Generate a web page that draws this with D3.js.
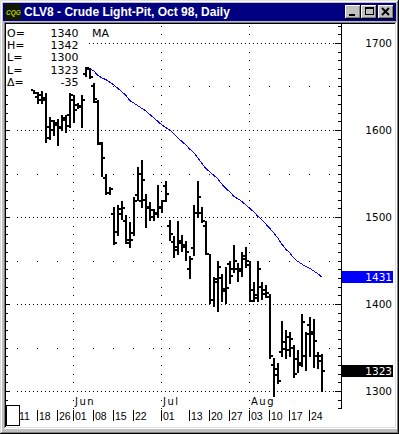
<!DOCTYPE html>
<html>
<head>
<meta charset="utf-8">
<script src="https://cdn.jsdelivr.net/npm/d3@7"></script>
<style>
html, body { margin: 0; padding: 0; background: #c0c0c0; overflow: hidden; }
svg { display: block; }
</style>
</head>
<body>
<script>
var width = 399, height = 434;

// ---- data ------------------------------------------------------------
var title = "CLV8 - Crude Light-Pit, Oct 98, Daily";
var firstDay = "1998-05-11", lastDay = "1998-09-02";
var holidays = ["1998-05-25", "1998-07-03"];

// daily OHLC, one value per trading day starting at barStart
var barStart = "1998-05-15";
var opens  = [1646,1638,1640,1634,1604,1600,1606,1604,1611,1617,1634,1629,1628,1664,1671,1650,1632,1584,1545,1528,
              1503,1483,1503,1495,1470,1482,1525,1518,1520,1512,1500,1505,1510,1536,1490,1471,1466,1470,1468,1440,
              1464,1505,1505,1490,1457,1405,1425,1430,1415,1446,1440,1440,1440,1455,1445,1416,1410,1420,1416,1408,
              1330,1325,1345,1348,1347,1350,1337,1332,1340,1376,1368,1340,1340];
var highs  = [1646,1644,1645,1642,1615,1611,1613,1617,1617,1642,1640,1631,1640,1672,1671,1654,1635,1586,1550,1534,
              1511,1514,1518,1502,1494,1523,1558,1566,1526,1517,1509,1537,1520,1541,1497,1478,1495,1479,1472,1455,
              1514,1541,1512,1495,1457,1431,1449,1434,1443,1449,1468,1447,1460,1466,1450,1425,1449,1425,1422,1411,
              1338,1332,1381,1370,1368,1353,1347,1389,1368,1385,1383,1345,1342];
var lows   = [1642,1631,1631,1586,1590,1594,1583,1600,1598,1604,1609,1625,1604,1662,1660,1632,1584,1547,1527,1527,
              1469,1479,1498,1470,1466,1479,1520,1511,1489,1496,1497,1500,1506,1518,1474,1454,1458,1461,1451,1430,
              1456,1500,1494,1457,1401,1398,1392,1403,1401,1424,1437,1426,1432,1442,1403,1403,1403,1406,1408,1338,
              1294,1309,1340,1338,1340,1316,1322,1329,1324,1340,1328,1326,1300];
var closes = [1643,1635,1637,1591,1610,1608,1602,1614,1605,1640,1623,1627,1634,1670,1661,1636,1585,1568,1528,1532,
              1470,1509,1510,1473,1473,1518,1550,1542,1510,1508,1503,1512,1518,1527,1480,1462,1472,1466,1460,1452,
              1505,1523,1495,1458,1405,1429,1442,1417,1418,1432,1450,1438,1452,1449,1404,1407,1440,1412,1413,1340,
              1318,1311,1356,1362,1360,1319,1330,1379,1365,1366,1358,1334,1323];

// moving average, one value per trading day starting at maStart
var maStart = "1998-06-05";
var maValues = [1670,1668,1663,1660,1658,1655,1652,1648,1644,1640,1634,1631,1628,1625,1622,1618,1614,1610,1606,1603,
                1600,1596,1591,1587,1583,1578,1574,1568,1562,1556,1552,1548,1544,1538,1533,1529,1524,1521,1518,1514,
                1510,1506,1501,1497,1492,1487,1482,1476,1469,1463,1459,1453,1449,1446,1443,1441,1438,1435,1431];

// bottom date scale
var dateTicks  = ["1998-05-11","1998-05-18","1998-05-26","1998-06-01","1998-06-08","1998-06-15","1998-06-22",
                  "1998-07-01","1998-07-13","1998-07-20","1998-07-27","1998-08-03","1998-08-10","1998-08-17","1998-08-24"];
var monthTicks = ["1998-06-01","1998-07-01","1998-08-03"];

// price scale
var priceDomain = [1280, 1720];
var priceLabels = [1300, 1400, 1500, 1600, 1700];
var halfLevels  = [1350, 1450, 1550, 1650];

// quote box at top left
var infoLabels = ["O=", "H=", "L=", "L=", "\u0394="];
var infoValues = ["1340", "1342", "1300", "1323", "-35"];

// ---- helpers ---------------------------------------------------------
var parse = d3.timeParse("%Y-%m-%d");
var fmt = d3.timeFormat("%Y-%m-%d");
var days = d3.timeDay.range(parse(firstDay), d3.timeDay.offset(parse(lastDay), 1))
    .filter(function(d){ return d.getDay() != 0 && d.getDay() != 6 && holidays.indexOf(fmt(d)) < 0; });
var dayKeys = days.map(fmt);

// first trading day of each week
var weekKeys = days.filter(function(d, i){
    return i == 0 || +d3.timeMonday.floor(d) != +d3.timeMonday.floor(days[i-1]);
}).map(fmt);

var x = d3.scalePoint().domain(dayKeys).range([17.7, 17.7 + 4 * (dayKeys.length - 1)]);
var y = d3.scaleLinear().domain(priceDomain).range([408.4, 25.6]);
function px(k){ return Math.floor(x(k)); }
function py(v){ return Math.round(y(v)); }

var bars = opens.map(function(o, k){
    return {key: dayKeys[dayKeys.indexOf(barStart) + k], o: o, h: highs[k], l: lows[k], c: closes[k]};
});
var ma = maValues.map(function(v, k){
    return {key: dayKeys[dayKeys.indexOf(maStart) + k], v: v};
});

var svg = d3.select("body").append("svg")
    .attr("width", width)
    .attr("height", height)
    .attr("shape-rendering", "crispEdges");

// ---- window frame ----------------------------------------------------
svg.append("rect").attr("width", width).attr("height", height).attr("fill", "#c0c0c0");
svg.append("path").attr("d", "M0.5,433V0.5H398").attr("stroke", "#dfdfdf").attr("fill", "none");
svg.append("path").attr("d", "M1.5,432V1.5H397").attr("stroke", "#ffffff").attr("fill", "none");
svg.append("path").attr("d", "M0,433.5H398.5V0").attr("stroke", "#000000").attr("fill", "none");
svg.append("path").attr("d", "M1,432.5H397.5V1").attr("stroke", "#808080").attr("fill", "none");

// title bar
svg.append("rect").attr("x", 3).attr("y", 3).attr("width", 393).attr("height", 18).attr("fill", "#000080");
svg.append("rect").attr("x", 5).attr("y", 4).attr("width", 16).attr("height", 16).attr("fill", "#101800");
svg.append("text").attr("x", 6).attr("y", 15)
    .attr("font-family", "Liberation Sans").attr("font-size", 6.5).attr("font-weight", "bold")
    .attr("font-style", "italic").attr("fill", "#b8cc00").text("CQG");
svg.append("text").attr("x", 24).attr("y", 16)
    .attr("font-family", "Liberation Sans").attr("font-size", 12).attr("font-weight", "bold")
    .attr("fill", "#ffffff").text(title);

// caption buttons
[345, 361, 378].forEach(function(bx){
    svg.append("rect").attr("x", bx).attr("y", 5).attr("width", 16).attr("height", 14).attr("fill", "#c0c0c0");
    svg.append("path").attr("d", "M" + bx + "," + 18.5 + "H" + (bx + 15.5) + "V5")
        .attr("stroke", "#000").attr("fill", "none");
    svg.append("path").attr("d", "M" + (bx + 1) + "," + 17.5 + "H" + (bx + 14.5) + "V6")
        .attr("stroke", "#808080").attr("fill", "none");
    svg.append("path").attr("d", "M" + (bx + 0.5) + ",18V5.5H" + (bx + 15))
        .attr("stroke", "#ffffff").attr("fill", "none");
});
svg.append("rect").attr("x", 349).attr("y", 14).attr("width", 6).attr("height", 2).attr("fill", "#000");
svg.append("rect").attr("x", 365.5).attr("y", 7.5).attr("width", 8).attr("height", 7).attr("fill", "none").attr("stroke", "#000");
svg.append("rect").attr("x", 365).attr("y", 7).attr("width", 9).attr("height", 2).attr("fill", "#000");
svg.append("path").attr("d", "M382,8L389,15M389,8L382,15").attr("stroke", "#000").attr("stroke-width", 2)
    .attr("shape-rendering", "auto");

// client area (sunken)
svg.append("path").attr("d", "M4.5,428V22.5H396").attr("stroke", "#808080").attr("fill", "none");
svg.append("path").attr("d", "M5.5,427V23.5H395").attr("stroke", "#000000").attr("fill", "none");
svg.append("path").attr("d", "M4,428.5H396.5V22").attr("stroke", "#ffffff").attr("fill", "none");
svg.append("path").attr("d", "M5,427.5H395.5V23").attr("stroke", "#dfdfdf").attr("fill", "none");
svg.append("rect").attr("x", 6).attr("y", 24).attr("width", 389).attr("height", 403).attr("fill", "#ffffff");

// ---- grid ------------------------------------------------------------
var grid = svg.append("g").attr("fill", "#000");
grid.selectAll(".hdot").data(d3.cross(priceLabels, dayKeys)).enter().append("rect")
    .attr("x", function(d){ return px(d[1]); })
    .attr("y", function(d){ return py(d[0]); })
    .attr("width", 1).attr("height", 1);
grid.selectAll(".mdot").data(d3.cross(monthTicks, d3.range(priceDomain[0], priceDomain[1] + 1, 10))).enter().append("rect")
    .attr("x", function(d){ return px(d[0]); })
    .attr("y", function(d){ return py(d[1]); })
    .attr("width", 1).attr("height", 1);
grid.selectAll(".wdot").data(d3.cross(weekKeys, halfLevels)).enter().append("rect")
    .attr("x", function(d){ return px(d[0]); })
    .attr("y", function(d){ return py(d[1]); })
    .attr("width", 1).attr("height", 1);

// ---- price axes ------------------------------------------------------
var levels = d3.range(priceDomain[0], priceDomain[1] + 1, 10);
svg.append("line").attr("x1", 341.5).attr("x2", 341.5).attr("y1", 24).attr("y2", 409).attr("stroke", "#000");
svg.append("g").selectAll("line").data(levels).enter().append("line")
    .attr("x1", function(d){ return d % 100 == 0 ? 335 : 338; })
    .attr("x2", 341)
    .attr("y1", function(d){ return py(d) + 0.5; })
    .attr("y2", function(d){ return py(d) + 0.5; })
    .attr("stroke", "#000");
svg.append("g").selectAll("line").data(levels).enter().append("line")
    .attr("x1", 6)
    .attr("x2", function(d){ return d % 100 == 0 ? 10 : 8; })
    .attr("y1", function(d){ return py(d) + 0.5; })
    .attr("y2", function(d){ return py(d) + 0.5; })
    .attr("stroke", "#000");
svg.append("g").selectAll("text").data(priceLabels).enter().append("text")
    .attr("x", 392).attr("y", function(d){ return py(d) + 4; })
    .attr("text-anchor", "end")
    .attr("font-family", "DejaVu Sans").attr("font-size", 10.5)
    .text(function(d){ return d; });

// white backing of the quote box (covers grid and left ticks)
svg.append("rect").attr("x", 6).attr("y", 25).attr("width", 82).attr("height", 64).attr("fill", "#ffffff");

// ---- date axis -------------------------------------------------------
svg.append("g").selectAll("line").data(dateTicks).enter().append("line")
    .attr("x1", function(d){ return px(d) + 0.5; })
    .attr("x2", function(d){ return px(d) + 0.5; })
    .attr("y1", 410).attr("y2", 421)
    .attr("stroke", "#000");
svg.append("g").selectAll("text").data(dateTicks).enter().append("text")
    .attr("x", function(d){ return px(d) + 2; })
    .attr("y", 419.5)
    .attr("font-family", "Liberation Sans").attr("font-size", 10.5)
    .text(function(d){ return d3.timeFormat("%d")(parse(d)); });
svg.append("g").selectAll("text").data(monthTicks).enter().append("text")
    .attr("x", function(d){ return px(d) + 2; })
    .attr("y", 405)
    .attr("font-family", "DejaVu Sans").attr("font-size", 10).attr("letter-spacing", 1.5)
    .text(function(d){ return d3.timeFormat("%b")(parse(d)); });
svg.append("rect").attr("x", 6.5).attr("y", 405.5).attr("width", 13).attr("height", 20)
    .attr("fill", "#ffffff").attr("stroke", "#000");

// ---- OHLC bars -------------------------------------------------------
var barG = svg.append("g").attr("fill", "#000");
barG.selectAll(".hl").data(bars).enter().append("rect")
    .attr("x", function(d){ return px(d.key); })
    .attr("y", function(d){ return py(d.h); })
    .attr("width", 2)
    .attr("height", function(d){ return py(d.l) - py(d.h) + 1; });
barG.selectAll(".op").data(bars).enter().append("rect")
    .attr("x", function(d){ return px(d.key) - 2; })
    .attr("y", function(d){ return py(d.o) - 1; })
    .attr("width", 2).attr("height", 2);
barG.selectAll(".cl").data(bars).enter().append("rect")
    .attr("x", function(d){ return px(d.key) + 2; })
    .attr("y", function(d){ return py(d.c) - 1; })
    .attr("width", 2).attr("height", 2);

// ---- moving average --------------------------------------------------
svg.append("path")
    .datum(ma)
    .attr("d", d3.line().x(function(d){ return x(d.key); }).y(function(d){ return y(d.v); }))
    .attr("fill", "none").attr("stroke", "#0000ff").attr("stroke-width", 1);

// ---- last value flags ------------------------------------------------
var flags = [{v: maValues[maValues.length - 1], fill: "#0000ff"}, {v: closes[closes.length - 1], fill: "#000000"}];
flags.forEach(function(f){
    svg.append("rect").attr("x", 342).attr("y", py(f.v) - 6).attr("width", 51).attr("height", 12).attr("fill", f.fill);
    svg.append("text").attr("x", 392).attr("y", py(f.v) + 4)
        .attr("text-anchor", "end").attr("fill", "#ffffff")
        .attr("font-family", "DejaVu Sans").attr("font-size", 10.5)
        .text(f.v);
});

// ---- quote box text --------------------------------------------------
var info = svg.append("g").attr("font-family", "DejaVu Sans").attr("font-size", 11);
infoLabels.forEach(function(lbl, k){
    var by = 36.7 + k * 12.35;
    info.append("text").attr("x", 7).attr("y", by).text(lbl);
    info.append("text").attr("x", 78.5).attr("y", by).attr("text-anchor", "end").text(infoValues[k]);
});
info.append("text").attr("x", 92).attr("y", 36.7).text("MA");
</script>
</body>
</html>
